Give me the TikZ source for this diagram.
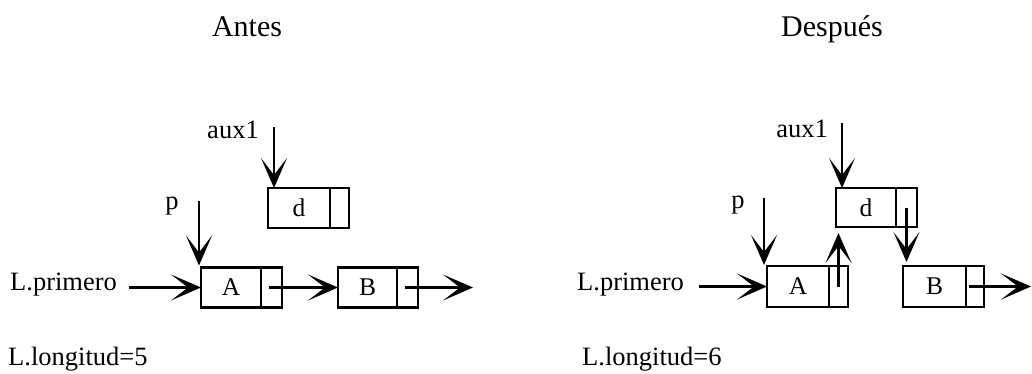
\documentclass[tikz,border=0pt]{standalone}
\usepackage{fontspec}
\setmainfont{Liberation Serif}
\usetikzlibrary{arrows.meta}
\begin{document}
\begin{tikzpicture}[x=1pt,y=-1pt,
  lbl/.style={inner sep=0pt, font=\fontsize{26.5}{30}\selectfont},
  ttl/.style={inner sep=0pt, font=\fontsize{30}{36}\selectfont},
  cell/.style={draw, line width=2.4pt, inner sep=0pt, outer sep=0pt, minimum height=40pt, font=\fontsize{25.5}{30}\selectfont},
  ptr/.style={line width=2.4pt, -{Stealth[length=30pt,width=26pt,inset=17pt]}}]
\useasboundingbox (0,0) rectangle (1032,373);

% titles
\node[ttl, anchor=base] (t1) at (247,36) {Antes};
\node[ttl, anchor=base] (t2) at (832,36) {Después};

% ---------- left: Antes ----------
\node[cell, minimum width=60pt] (LAd) at (231,287.5) {A};
\node[cell, minimum width=21pt, anchor=west] (LAp) at (LAd.east) {};
\node[cell, minimum width=59pt] (LBd) at (367.5,287.5) {B};
\node[cell, minimum width=21pt, anchor=west] (LBp) at (LBd.east) {};
\node[cell, minimum width=62pt] (Ldd) at (299,208) {d};
\node[cell, minimum width=19pt, anchor=west] (Ldp) at (Ldd.east) {};

\node[lbl, anchor=base west] (LLp) at (10,290) {L.primero};
\node[lbl, anchor=base] (Lpl) at (172,209) {p};
\node[lbl, anchor=base] (Lal) at (233,138) {aux1};
\node[lbl, anchor=base west] (Llen) at (8,365) {L.longitud=5};

\coordinate (Lps) at (199,201);
\coordinate (Las) at (274,127);
\coordinate (Lend) at (473,287.5);

\draw[ptr, shorten <=12pt] (LLp.east |- LAd.west) -- (LAd.west);
\draw[ptr, shorten >=2pt] (Lps) -- (Lps |- LAd.north);
\draw[ptr] (Las) -- (Las |- Ldd.north);
\draw[ptr, shorten <=-3pt] (LAp.center) -- (LBd.west);
\draw[ptr, shorten <=-3pt] (LBp.center) -- (Lend);

% ---------- right: Después ----------
\node[cell, minimum width=62pt, minimum height=41pt] (RAd) at (798,286.5) {A};
\node[cell, minimum width=19pt, minimum height=41pt, anchor=west] (RAp) at (RAd.east) {};
\node[cell, minimum width=60pt, minimum height=39pt] (Rdd) at (866,207.5) {d};
\node[cell, minimum width=21pt, minimum height=39pt, anchor=west] (Rdp) at (Rdd.east) {};
\node[cell, minimum width=63pt, minimum height=41pt] (RBd) at (934.5,286.5) {B};
\node[cell, minimum width=18pt, minimum height=41pt, anchor=west] (RBp) at (RBd.east) {};

\node[lbl, anchor=base west] (RLp) at (577,290) {L.primero};
\node[lbl, anchor=base] (Rpl) at (738,208) {p};
\node[lbl, anchor=base] (Ral) at (802,137) {aux1};
\node[lbl, anchor=base west] (Rlen) at (582,365) {L.longitud=6};

\coordinate (Rps) at (764,198);
\coordinate (Ras) at (842,123);
\coordinate (Rend) at (1031,286.5);

\draw[ptr, shorten <=15pt] (RLp.east |- RAd.west) -- (RAd.west);
\draw[ptr, shorten >=1pt] (Rps) -- (Rps |- RAd.north);
\draw[ptr] (Ras) -- (Ras |- Rdd.north);
\draw[ptr, shorten >=6pt] (RAp.center) -- (RAp.center |- Rdd.south);
\draw[ptr, shorten >=4pt] (Rdp.center) -- (Rdp.center |- RBd.north);
\draw[ptr, shorten <=-6pt] (RBp.center) -- (Rend);
\end{tikzpicture}
\end{document}
